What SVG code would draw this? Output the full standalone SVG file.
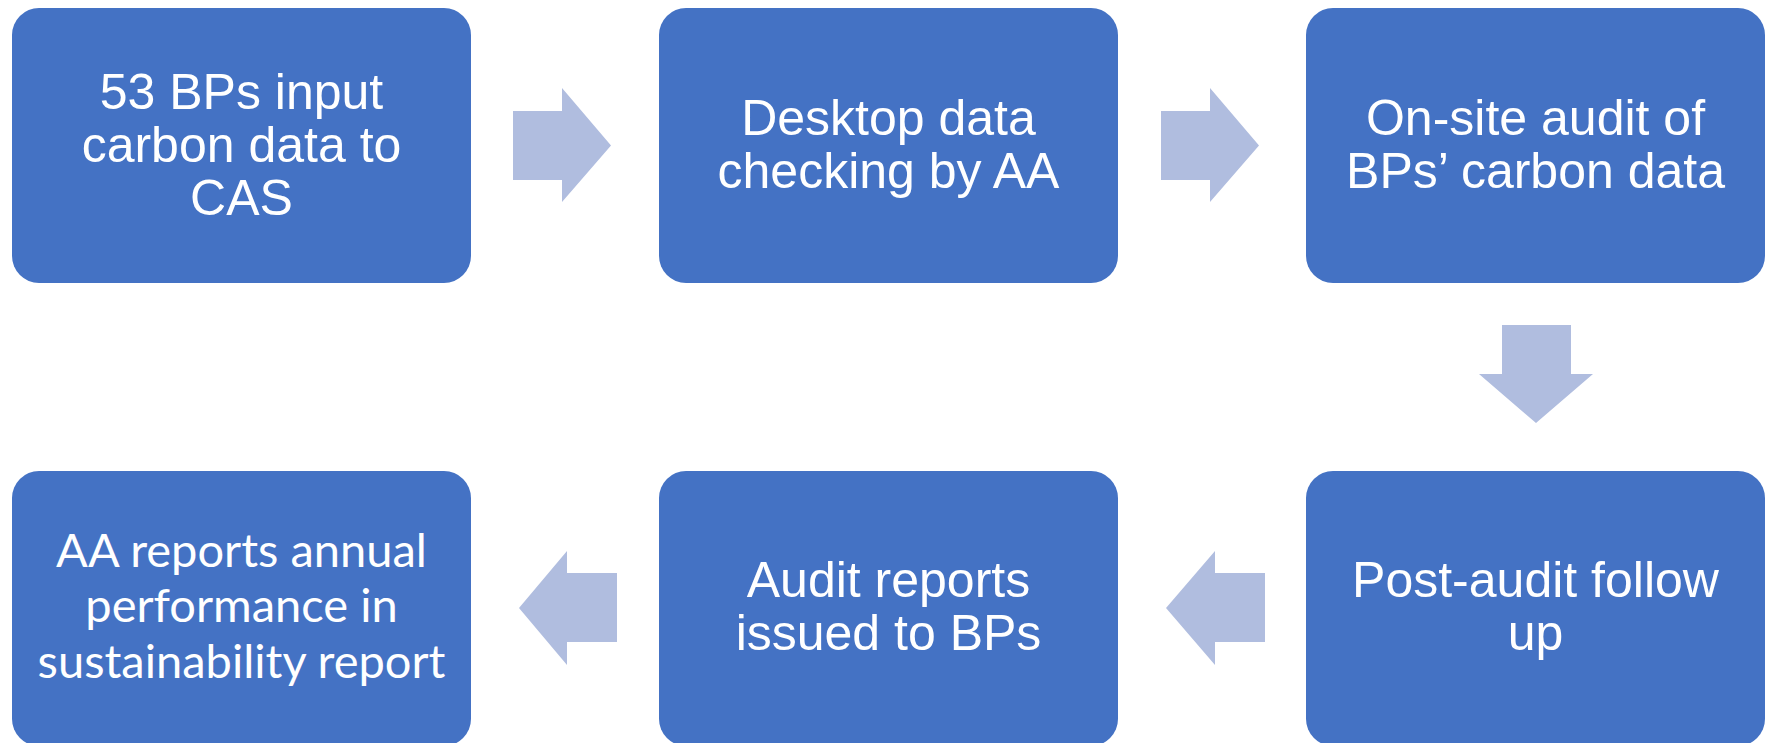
<svg xmlns="http://www.w3.org/2000/svg" width="1772" height="743" viewBox="0 0 1772 743">
<style>
.box{fill:#4472C4}
.arr{fill:#B0BDDF}
.t{font-family:"Liberation Sans",Arial,sans-serif;font-size:50px;fill:#fff;text-anchor:middle}
.c{font-family:Lato,"Open Sans",sans-serif;font-size:47px;fill:#fff;text-anchor:middle}
</style>
<rect width="1772" height="743" fill="#fff"/>
<g id="connectors">
<polygon class="arr" points="513,111 562,111 562,88 611,145.5 562,202 562,180 513,180"/>
<polygon class="arr" points="1161,111 1210,111 1210,88 1259,145.5 1210,202 1210,180 1161,180"/>
<polygon class="arr" points="1502,325 1571,325 1571,374 1593,374 1536,423 1479,374 1502,374"/>
<polygon class="arr" points="1265,573 1215,573 1215,551 1166,608 1215,665 1215,642 1265,642"/>
<polygon class="arr" points="617,573 567,573 567,551 519,608 567,665 567,642 617,642"/>
</g>
<g id="n1"><rect class="box" x="12" y="8" width="459" height="275" rx="27"/>
<text class="t" x="241.5" y="109">53 BPs input</text><text class="t" x="241.5" y="162">carbon data to</text><text class="t" x="241.5" y="215">CAS</text></g>
<g id="n2"><rect class="box" x="659" y="8" width="459" height="275" rx="27"/>
<text class="t" x="888.5" y="135">Desktop data</text><text class="t" x="888.5" y="188">checking by AA</text></g>
<g id="n3"><rect class="box" x="1306" y="8" width="459" height="275" rx="27"/>
<text class="t" x="1535.5" y="135">On-site audit of</text><text class="t" x="1535.5" y="188">BPs’ carbon data</text></g>
<g id="n4"><rect class="box" x="1306" y="471" width="459" height="275" rx="27"/>
<text class="t" x="1535.5" y="597">Post-audit follow</text><text class="t" x="1535.5" y="650">up</text></g>
<g id="n5"><rect class="box" x="659" y="471" width="459" height="275" rx="27"/>
<text class="t" x="888.5" y="597">Audit reports</text><text class="t" x="888.5" y="650">issued to BPs</text></g>
<g id="n6"><rect class="box" x="12" y="471" width="459" height="275" rx="27"/>
<text class="c" x="241.5" y="567">AA reports annual</text><text class="c" x="241.5" y="622">performance in</text><text class="c" x="241.5" y="678">sustainability report</text></g>
</svg>
